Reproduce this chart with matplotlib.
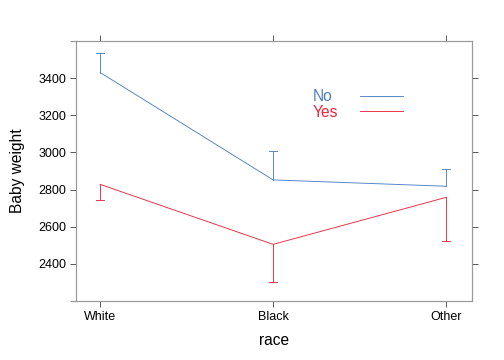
import matplotlib
matplotlib.use("Agg")
import matplotlib.pyplot as plt
import numpy as np

plt.rcParams['font.family'] = ['Liberation Sans', 'DejaVu Sans']

# dati
race = ['White', 'Black', 'Other']
no_mean = [3430, 2852, 2818]
no_upper = [3534, 3008, 2911]
yes_mean = [2828, 2505, 2758]
yes_lower = [2742, 2303, 2522]
yticks = [2400, 2600, 2800, 3000, 3200, 3400]

blue = '#4d80c4'
red = '#e8283c'

fig = plt.figure(figsize=(7, 5), dpi=72)
ax = fig.add_axes([76 / 504, 1 - 301 / 360, 396 / 504, 260 / 360])

x = np.arange(len(race))
ax.plot(x, no_mean, color=blue, lw=0.9)
ax.plot(x, yes_mean, color=red, lw=0.9)

# barre di errore a un solo lato
for xi, m, u in zip(x, no_mean, no_upper):
    ax.plot([xi, xi], [m, u], color=blue, lw=0.9)
    ax.plot([xi - 0.022, xi + 0.022], [u, u], color=blue, lw=0.9)
for xi, m, l in zip(x, yes_mean, yes_lower):
    ax.plot([xi, xi], [m, l], color=red, lw=0.9)
    ax.plot([xi - 0.022, xi + 0.022], [l, l], color=red, lw=0.9)

ax.set_xlim(-0.14, 2.15)
ax.set_ylim(2200, 3600)
ax.set_xticks(x)
ax.set_xticklabels(race)
ax.set_yticks(yticks)
ax.set_yticks([2200, 3600], minor=True)
ax.tick_params(axis='both', direction='out', length=6, width=0.8,
               colors='#333333', labelcolor='black', labelsize=12.5,
               top=True, right=True, pad=4)
ax.tick_params(axis='y', which='minor', length=6, width=1.2,
               colors='#999999', right=False)
for s in ax.spines.values():
    s.set_color('#999999')
    s.set_linewidth(1.2)

ax.set_xlabel('race', fontsize=15.5, labelpad=10)
ax.set_ylabel('Baby weight', fontsize=15.5, labelpad=13)

# legenda in stile lattice
ax.text(1.23, 3303, 'No', color=blue, fontsize=15.5, va='center')
ax.text(1.23, 3217, 'Yes', color=red, fontsize=15.5, va='center')
ax.plot([1.50, 1.75], [3303, 3303], color=blue, lw=0.9)
ax.plot([1.50, 1.75], [3223, 3223], color=red, lw=0.9)

fig.savefig('out.png', dpi=72)
